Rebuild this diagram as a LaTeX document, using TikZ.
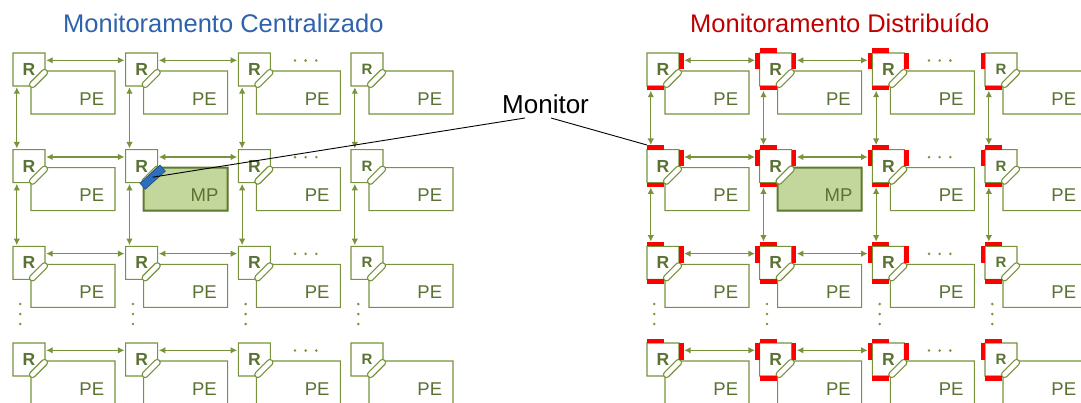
\documentclass[tikz,border=0pt]{standalone}
\usepackage{fontspec}
\setmainfont{Liberation Sans}
\usetikzlibrary{arrows.meta, calc}

\definecolor{nocgreen}{HTML}{77933C}
\definecolor{nocdark}{HTML}{5A7232}
\definecolor{mpfill}{HTML}{C3D69B}
\definecolor{mpline}{HTML}{5E7A30}
\definecolor{monblue}{HTML}{2E6EBD}
\definecolor{monedge}{HTML}{1F4E79}
\definecolor{titleblue}{HTML}{2F62AD}
\definecolor{titlered}{HTML}{C00000}

\tikzset{
  rbox/.style={draw=nocgreen, line width=1.1pt, fill=white},
  pebox/.style={draw=nocgreen, line width=1.1pt, fill=white},
  mpbox/.style={draw=mpline, line width=2pt, fill=mpfill},
  link/.style={draw=nocgreen, line width=1.1pt, fill=white, rectangle, rounded corners=2.9pt, minimum width=23pt, minimum height=6pt, inner sep=0pt, rotate=45},
  router/.style={rectangle, minimum width=32pt, minimum height=33pt, inner sep=0pt, text=nocdark, font=\fontsize{17.5}{17.5}\selectfont\bfseries},
  rsmall/.style={font=\fontsize{15}{15}\selectfont\bfseries},
  petext/.style={inner sep=0pt, text=nocdark, font=\fontsize{18.5}{18.5}\selectfont},
  wire/.style={nocgreen, line width=1.1pt, {Latex[length=6.5pt,width=6.5pt]}-{Latex[length=6.5pt,width=6.5pt]}, shorten <=1pt, shorten >=1pt},
  probe/.style={fill=red},
  monitor/.style={draw=monedge, line width=0.6pt, fill=monblue, rectangle, minimum width=27pt, minimum height=8pt, inner sep=0pt, rotate=42},
  pointer/.style={black, line width=0.9pt},
  title/.style={anchor=base west, inner sep=0pt, font=\fontsize{25.5}{26}\selectfont},
}

\begin{document}
\begin{tikzpicture}[x=1pt, y=-1pt]
	\useasboundingbox (0,0) rectangle (1081,403);

	\node[title, text=titleblue] (tcent) at (63,33) {Monitoramento Centralizado};
	\node[title, text=titlered] (tdist) at (690,33) {Monitoramento Distribuído};

	% centralizado
	\begin{scope}
		\foreach \col in {1,...,4}{
			\foreach \row in {1,...,4}{
				\pgfmathsetmacro\x{13+112.67*(\col-1)}
				\pgfmathsetmacro\y{53+96.67*(\row-1)}
				\begin{scope}[shift={(\x,\y)}]
					\draw[pebox] (18,61) -- (18,32) -- (32,18) -- (102,18) -- (102,61) -- cycle;
					\draw[rbox] (0,0) -- (32,0) -- (32,19) -- (18,33) -- (0,33) -- cycle;
					\node[link] (cl-\col-\row) at (25.5,25.5) {};
					\ifnum\col=4\relax
						\node[router, rsmall] (c-\col-\row) at (16,16.5) {R};
					\else
						\node[router] (c-\col-\row) at (16,16.5) {R};
					\fi
					\node[petext] (cpe-\col-\row) at (78.8,45.8) {PE};
					\ifnum\col=3\relax
						\foreach \dd in {56.7,67.3,78}{\fill[nocgreen] (\dd,7.5) circle (1.4pt);}
					\fi
					\ifnum\row=3\relax
						\foreach \dd in {57.7,67.7,77.7}{\fill[nocgreen] (7.3,\dd) circle (1.4pt);}
					\fi
				\end{scope}
			}
		}

		\begin{scope}[shift={(125.67,149.67)}]
			\draw[mpbox] (18,61) -- (18,32) -- (32,18) -- (102,18) -- (102,61) -- cycle;
			\node[petext] (cmp) at (78.8,45.8) {MP};
			\node[monitor] (cmon) at (27,27.5) {};
		\end{scope}

		\foreach \row in {1,...,4}
			\foreach \col/\nxt in {1/2,2/3}
				\draw[wire] ([yshift=-7.5pt]c-\col-\row.north east) -- ([yshift=-7.5pt]c-\nxt-\row.north west);
		\foreach \col in {1,...,4}
			\foreach \row/\nxt in {1/2,2/3}
				\draw[wire] ([xshift=4pt]c-\col-\row.south west) -- ([xshift=4pt]c-\col-\nxt.north west);
	\end{scope}

	% distribuido
	\begin{scope}[shift={(634,0)}]
		\foreach \col in {1,...,4}{
			\foreach \row in {1,...,4}{
				\pgfmathsetmacro\x{13+112.67*(\col-1)}
				\pgfmathsetmacro\y{53+96.67*(\row-1)}
				\pgfmathtruncatemacro\hastop{(\row>1) || ((\col>1) && (\col<4))}
				\pgfmathtruncatemacro\hasbot{(\row<4) || (\col>1)}
				\begin{scope}[shift={(\x,\y)}]
					\draw[pebox] (18,61) -- (18,32) -- (32,18) -- (102,18) -- (102,61) -- cycle;
					\draw[rbox] (0,0) -- (32,0) -- (32,19) -- (18,33) -- (0,33) -- cycle;
					\node[link] (dl-\col-\row) at (25.5,25.5) {};
					\ifnum\col=4\relax
						\node[router, rsmall] (d-\col-\row) at (16,16.5) {R};
					\else
						\node[router] (d-\col-\row) at (16,16.5) {R};
					\fi
					\node[petext] (dpe-\col-\row) at (78.8,45.8) {PE};
					% probes
					\ifnum\hastop=1\relax \fill[probe] (0,-4.5) rectangle (17,0); \fi
					\ifnum\hasbot=1\relax \fill[probe] (0,33) rectangle (17,37.5); \fi
					\ifnum\col>1\relax \fill[probe] (-4.5,0) rectangle (0,16.5); \fi
					\ifnum\col<4\relax \fill[probe] (32,0) rectangle (36.5,16.5); \fi
					\ifnum\col=3\relax
						\foreach \dd in {56.7,67.3,78}{\fill[nocgreen] (\dd,7.5) circle (1.4pt);}
					\fi
					\ifnum\row=3\relax
						\foreach \dd in {57.7,67.7,77.7}{\fill[nocgreen] (7.3,\dd) circle (1.4pt);}
					\fi
				\end{scope}
			}
		}

		\begin{scope}[shift={(125.67,149.67)}]
			\draw[mpbox] (18,61) -- (18,32) -- (32,18) -- (102,18) -- (102,61) -- cycle;
			\node[petext] (dmp) at (78.8,45.8) {MP};
			\node[link] (dmpl) at (25.5,25.5) {};
		\end{scope}

		\foreach \row in {1,...,4}
			\foreach \col/\nxt in {1/2,2/3}
				\draw[wire, shorten <=5pt, shorten >=4.5pt] ([yshift=-7.5pt]d-\col-\row.north east) -- ([yshift=-7.5pt]d-\nxt-\row.north west);
		\foreach \col in {1,...,4}
			\foreach \row/\nxt in {1/2,2/3}
				\draw[wire, shorten <=4.5pt, shorten >=4.5pt] ([xshift=4pt]d-\col-\row.south west) -- ([xshift=4pt]d-\col-\nxt.north west);
	\end{scope}

	% monitor label
	\node[anchor=base west, inner sep=0pt, font=\fontsize{26}{26}\selectfont] (mon) at (502,114) {Monitor};
	\coordinate (monA) at (525,118);
	\coordinate (monB) at (551,118);
	\draw[pointer] (monA) -- (cmon.center);
	\draw[pointer] (monB) -- ([yshift=4.5pt]d-1-2.north west);
\end{tikzpicture}
\end{document}
